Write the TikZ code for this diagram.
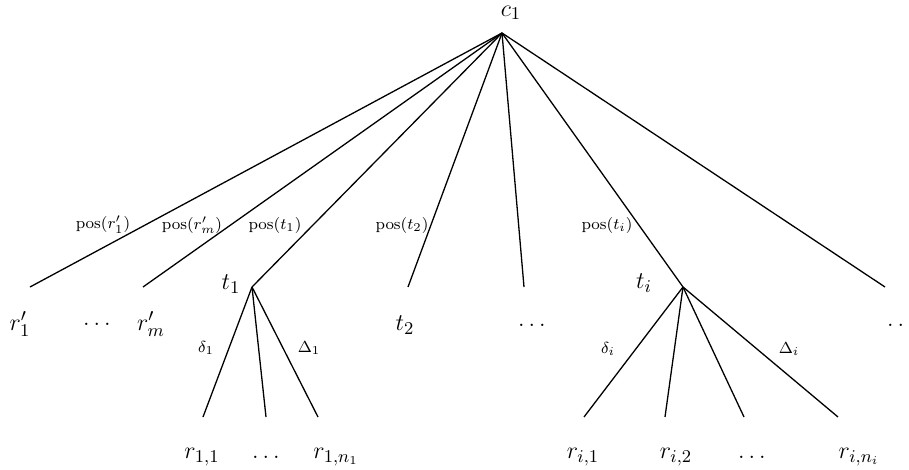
\documentclass[tikz,border=0pt]{standalone}
\begin{document}
\begin{tikzpicture}[x=0.5pt,y=-0.5pt,
  edge/.style={line width=0.65pt},
  lbl/.style={inner sep=0pt,font=\fontsize{12.6}{15}\selectfont},
  elbl/.style={inner sep=0pt,font=\footnotesize}]
\clip (0,0) rectangle (909,470);
% root and branching points
\coordinate (c) at (502,33);
\coordinate (t1p) at (252,287);
\coordinate (tip) at (683,287);
% free ends of the first level
\coordinate (e1) at (30,287);
\coordinate (e2) at (143,287);
\coordinate (e3) at (408,287);
\coordinate (e4) at (524,287);
\coordinate (e5) at (885,287);
% free ends below t_1 and t_i
\coordinate (a1) at (203,417);
\coordinate (a2) at (266,417);
\coordinate (a3) at (318,417);
\coordinate (b1) at (584,417);
\coordinate (b2) at (665,417);
\coordinate (b3) at (744,417);
\coordinate (b4) at (838,417);

% labels
\node[lbl] (lc) at (511,13) {$c_1$};
\node[lbl] (lt1) at (231,284) {$t_1$};
\node[lbl] (lti) at (644,283) {$t_i$};
\node[lbl] (lr1) at (20,324) {$r'_1$};
\node[lbl] (ld1) at (97,324) {$\ldots$};
\node[lbl] (lrm) at (151,324) {$r'_m$};
\node[lbl] (lt2) at (405,325) {$t_2$};
\node[lbl] (ld2) at (532,325) {$\ldots$};
\node[lbl] (ld3) at (901,325) {$\ldots$};
\node[lbl] (l11) at (202,457) {$r_{1,1}$};
\node[lbl] (l1d) at (266,457) {$\ldots$};
\node[lbl] (l1n) at (336,457) {$r_{1,n_1}$};
\node[lbl] (li1) at (583,457) {$r_{i,1}$};
\node[lbl] (li2) at (676,457) {$r_{i,2}$};
\node[lbl] (lid) at (752,457) {$\ldots$};
\node[lbl] (lin) at (859,457) {$r_{i,n_i}$};

\node[elbl] (p1) at (103,225) {$\mathrm{pos}(r'_1)$};
\node[elbl] (p2) at (192,225) {$\mathrm{pos}(r'_m)$};
\node[elbl] (p3) at (275,225) {$\mathrm{pos}(t_1)$};
\node[elbl] (p4) at (402,225) {$\mathrm{pos}(t_2)$};
\node[elbl] (p5) at (607,225) {$\mathrm{pos}(t_i)$};
\node[elbl] (dl1) at (206,348) {$\delta_1$};
\node[elbl] (Dl1) at (309,348) {$\Delta_1$};
\node[elbl] (dli) at (608,349) {$\delta_i$};
\node[elbl] (Dli) at (789,349) {$\Delta_i$};

% edges
\foreach \e in {e1,e2,t1p,e3,e4,tip,e5} \draw[edge] (c) -- (\e);
\foreach \e in {a1,a2,a3} \draw[edge] (t1p) -- (\e);
\foreach \e in {b1,b2,b3,b4} \draw[edge] (tip) -- (\e);
\end{tikzpicture}
\end{document}
